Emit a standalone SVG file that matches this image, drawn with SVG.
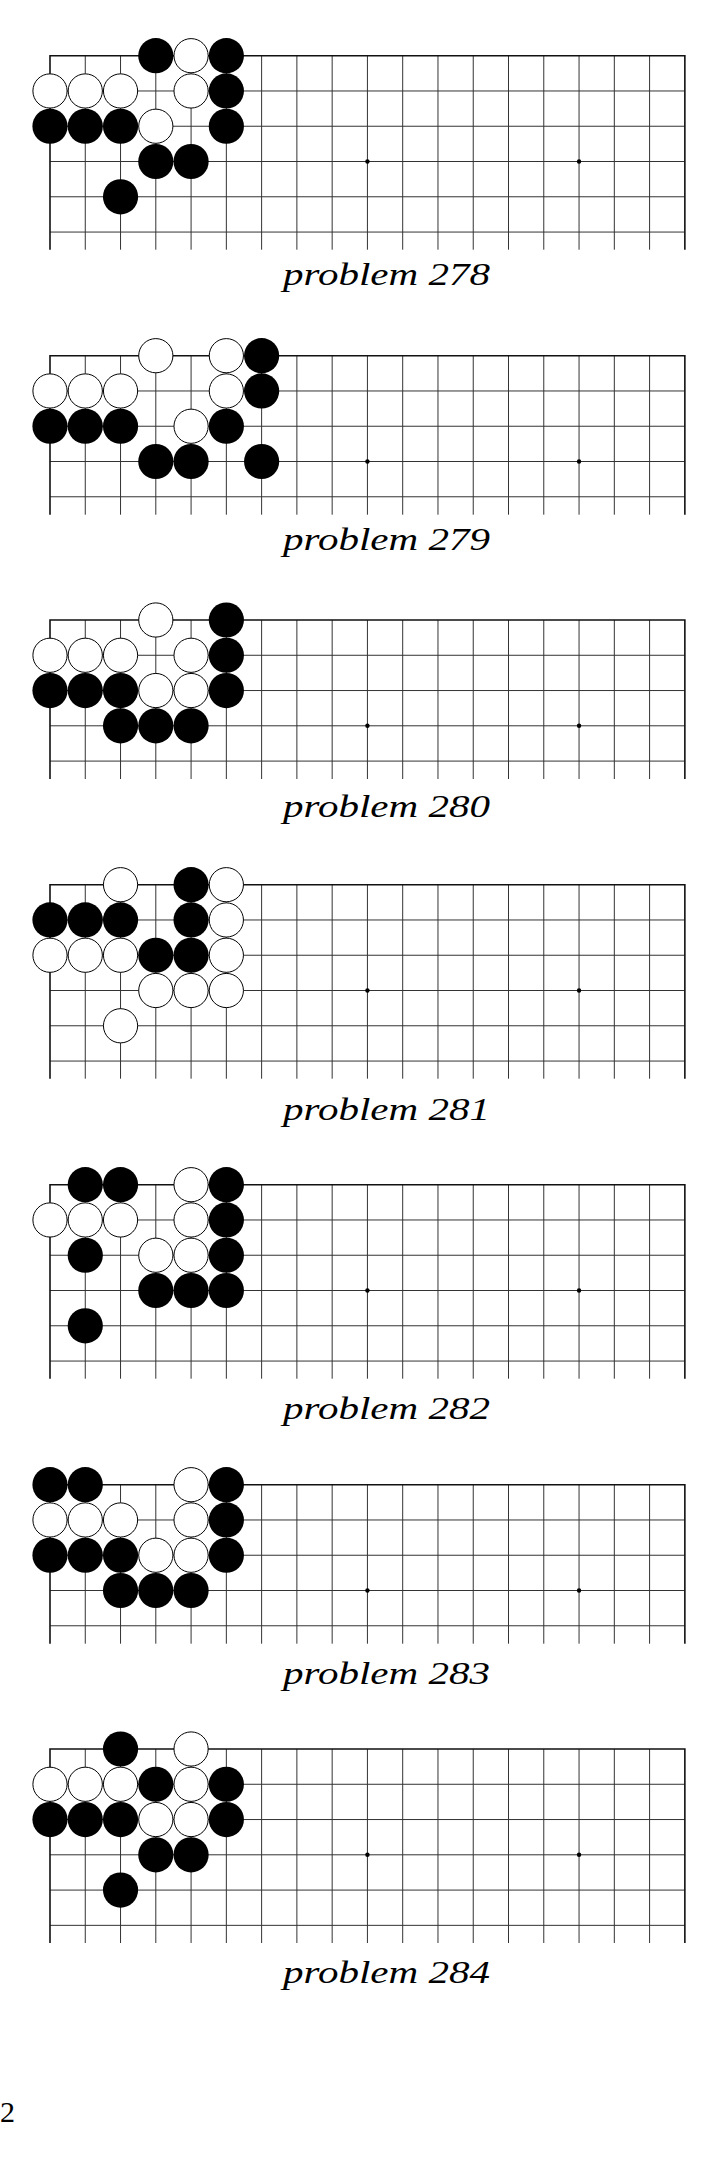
<svg xmlns="http://www.w3.org/2000/svg" xmlns:xlink="http://www.w3.org/1999/xlink" width="725" height="2181" viewBox="0 0 725 2181">
<style>
.in{stroke:#333;stroke-width:1;fill:none}
.edge{stroke:#111;stroke-width:1.6;fill:none}
.lbl{font-family:"Liberation Serif",serif;font-style:italic;font-size:31px;fill:#000}
.pg{font-family:"Liberation Serif",serif;font-size:30px;fill:#000}
</style>
<defs>
<circle id="B" r="17.6" fill="#000"/>
<circle id="W" r="17.1" fill="#fff" stroke="#000" stroke-width="1"/>
<g id="g6">
<path class="in" d="M0 35.27H634.86M0 70.54H634.86M0 105.81H634.86M0 141.08H634.86M0 176.35H634.86M35.27 0V194M70.54 0V194M105.81 0V194M141.08 0V194M176.35 0V194M211.62 0V194M246.89 0V194M282.16 0V194M317.43 0V194M352.7 0V194M387.97 0V194M423.24 0V194M458.51 0V194M493.78 0V194M529.05 0V194M564.32 0V194M599.59 0V194"/>
<path class="edge" d="M0 194V0H634.86V194"/>
<circle cx="317.43" cy="105.81" r="2.2" fill="#000"/>
<circle cx="529.05" cy="105.81" r="2.2" fill="#000"/>
</g>
<g id="g5">
<path class="in" d="M0 35.27H634.86M0 70.54H634.86M0 105.81H634.86M0 141.08H634.86M35.27 0V159M70.54 0V159M105.81 0V159M141.08 0V159M176.35 0V159M211.62 0V159M246.89 0V159M282.16 0V159M317.43 0V159M352.7 0V159M387.97 0V159M423.24 0V159M458.51 0V159M493.78 0V159M529.05 0V159M564.32 0V159M599.59 0V159"/>
<path class="edge" d="M0 159V0H634.86V159"/>
<circle cx="317.43" cy="105.81" r="2.2" fill="#000"/>
<circle cx="529.05" cy="105.81" r="2.2" fill="#000"/>
</g>
</defs>

<g id="problem278" transform="translate(50,55.7)">
<use href="#g6"/>
<use href="#B" x="105.81" y="0"/><use href="#W" x="141.08" y="0"/><use href="#B" x="176.35" y="0"/>
<use href="#W" x="0" y="35.27"/><use href="#W" x="35.27" y="35.27"/><use href="#W" x="70.54" y="35.27"/><use href="#W" x="141.08" y="35.27"/><use href="#B" x="176.35" y="35.27"/>
<use href="#B" x="0" y="70.54"/><use href="#B" x="35.27" y="70.54"/><use href="#B" x="70.54" y="70.54"/><use href="#W" x="105.81" y="70.54"/><use href="#B" x="176.35" y="70.54"/>
<use href="#B" x="105.81" y="105.81"/><use href="#B" x="141.08" y="105.81"/>
<use href="#B" x="70.54" y="141.08"/>
</g>
<text id="label278" class="lbl" x="283" y="285" textLength="207" lengthAdjust="spacingAndGlyphs">problem 278</text>

<g id="problem279" transform="translate(50,355.7)">
<use href="#g5"/>
<use href="#W" x="105.81" y="0"/><use href="#W" x="176.35" y="0"/><use href="#B" x="211.62" y="0"/>
<use href="#W" x="0" y="35.27"/><use href="#W" x="35.27" y="35.27"/><use href="#W" x="70.54" y="35.27"/><use href="#W" x="176.35" y="35.27"/><use href="#B" x="211.62" y="35.27"/>
<use href="#B" x="0" y="70.54"/><use href="#B" x="35.27" y="70.54"/><use href="#B" x="70.54" y="70.54"/><use href="#W" x="141.08" y="70.54"/><use href="#B" x="176.35" y="70.54"/>
<use href="#B" x="105.81" y="105.81"/><use href="#B" x="141.08" y="105.81"/><use href="#B" x="211.62" y="105.81"/>
</g>
<text id="label279" class="lbl" x="283" y="550" textLength="207" lengthAdjust="spacingAndGlyphs">problem 279</text>

<g id="problem280" transform="translate(50,620)">
<use href="#g5"/>
<use href="#W" x="105.81" y="0"/><use href="#B" x="176.35" y="0"/>
<use href="#W" x="0" y="35.27"/><use href="#W" x="35.27" y="35.27"/><use href="#W" x="70.54" y="35.27"/><use href="#W" x="141.08" y="35.27"/><use href="#B" x="176.35" y="35.27"/>
<use href="#B" x="0" y="70.54"/><use href="#B" x="35.27" y="70.54"/><use href="#B" x="70.54" y="70.54"/><use href="#W" x="105.81" y="70.54"/><use href="#W" x="141.08" y="70.54"/><use href="#B" x="176.35" y="70.54"/>
<use href="#B" x="70.54" y="105.81"/><use href="#B" x="105.81" y="105.81"/><use href="#B" x="141.08" y="105.81"/>
</g>
<text id="label280" class="lbl" x="283" y="817" textLength="207" lengthAdjust="spacingAndGlyphs">problem 280</text>

<g id="problem281" transform="translate(50,884.7)">
<use href="#g6"/>
<use href="#W" x="70.54" y="0"/><use href="#B" x="141.08" y="0"/><use href="#W" x="176.35" y="0"/>
<use href="#B" x="0" y="35.27"/><use href="#B" x="35.27" y="35.27"/><use href="#B" x="70.54" y="35.27"/><use href="#B" x="141.08" y="35.27"/><use href="#W" x="176.35" y="35.27"/>
<use href="#W" x="0" y="70.54"/><use href="#W" x="35.27" y="70.54"/><use href="#W" x="70.54" y="70.54"/><use href="#B" x="105.81" y="70.54"/><use href="#B" x="141.08" y="70.54"/><use href="#W" x="176.35" y="70.54"/>
<use href="#W" x="105.81" y="105.81"/><use href="#W" x="141.08" y="105.81"/><use href="#W" x="176.35" y="105.81"/>
<use href="#W" x="70.54" y="141.08"/>
</g>
<text id="label281" class="lbl" x="283" y="1120" textLength="207" lengthAdjust="spacingAndGlyphs">problem 281</text>

<g id="problem282" transform="translate(50,1184.7)">
<use href="#g6"/>
<use href="#B" x="35.27" y="0"/><use href="#B" x="70.54" y="0"/><use href="#W" x="141.08" y="0"/><use href="#B" x="176.35" y="0"/>
<use href="#W" x="0" y="35.27"/><use href="#W" x="35.27" y="35.27"/><use href="#W" x="70.54" y="35.27"/><use href="#W" x="141.08" y="35.27"/><use href="#B" x="176.35" y="35.27"/>
<use href="#B" x="35.27" y="70.54"/><use href="#W" x="105.81" y="70.54"/><use href="#W" x="141.08" y="70.54"/><use href="#B" x="176.35" y="70.54"/>
<use href="#B" x="105.81" y="105.81"/><use href="#B" x="141.08" y="105.81"/><use href="#B" x="176.35" y="105.81"/>
<use href="#B" x="35.27" y="141.08"/>
</g>
<text id="label282" class="lbl" x="283" y="1419" textLength="207" lengthAdjust="spacingAndGlyphs">problem 282</text>

<g id="problem283" transform="translate(50,1484.7)">
<use href="#g5"/>
<use href="#B" x="0" y="0"/><use href="#B" x="35.27" y="0"/><use href="#W" x="141.08" y="0"/><use href="#B" x="176.35" y="0"/>
<use href="#W" x="0" y="35.27"/><use href="#W" x="35.27" y="35.27"/><use href="#W" x="70.54" y="35.27"/><use href="#W" x="141.08" y="35.27"/><use href="#B" x="176.35" y="35.27"/>
<use href="#B" x="0" y="70.54"/><use href="#B" x="35.27" y="70.54"/><use href="#B" x="70.54" y="70.54"/><use href="#W" x="105.81" y="70.54"/><use href="#W" x="141.08" y="70.54"/><use href="#B" x="176.35" y="70.54"/>
<use href="#B" x="70.54" y="105.81"/><use href="#B" x="105.81" y="105.81"/><use href="#B" x="141.08" y="105.81"/>
</g>
<text id="label283" class="lbl" x="283" y="1684" textLength="207" lengthAdjust="spacingAndGlyphs">problem 283</text>

<g id="problem284" transform="translate(50,1749)">
<use href="#g6"/>
<use href="#B" x="70.54" y="0"/><use href="#W" x="141.08" y="0"/>
<use href="#W" x="0" y="35.27"/><use href="#W" x="35.27" y="35.27"/><use href="#W" x="70.54" y="35.27"/><use href="#B" x="105.81" y="35.27"/><use href="#W" x="141.08" y="35.27"/><use href="#B" x="176.35" y="35.27"/>
<use href="#B" x="0" y="70.54"/><use href="#B" x="35.27" y="70.54"/><use href="#B" x="70.54" y="70.54"/><use href="#W" x="105.81" y="70.54"/><use href="#W" x="141.08" y="70.54"/><use href="#B" x="176.35" y="70.54"/>
<use href="#B" x="105.81" y="105.81"/><use href="#B" x="141.08" y="105.81"/>
<use href="#B" x="70.54" y="141.08"/>
</g>
<text id="label284" class="lbl" x="283" y="1983" textLength="207" lengthAdjust="spacingAndGlyphs">problem 284</text>

<text id="pagenum" class="pg" x="0" y="2122">2</text>
</svg>
